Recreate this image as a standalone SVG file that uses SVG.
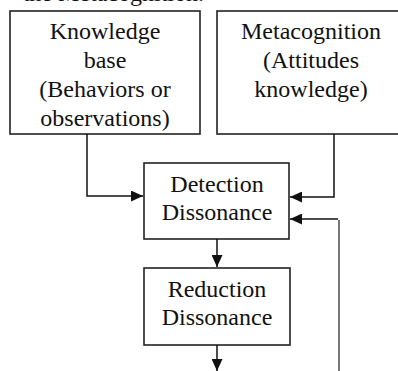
<svg xmlns="http://www.w3.org/2000/svg" width="398" height="371" viewBox="0 0 398 371">
  <defs>
    <style>
      .box { fill: #fff; stroke: #222; stroke-width: 1.6; }
      .wire { fill: none; stroke: #111; stroke-width: 1.5; }
      .wire-gray { fill: none; stroke: #777; stroke-width: 2; }
    </style>
    <marker id="head" viewBox="0 0 12 12" refX="12" refY="6" markerWidth="12" markerHeight="11" markerUnits="userSpaceOnUse" orient="auto" preserveAspectRatio="none">
      <path d="M0,0 L12,6 L0,12 z" fill="#111"/>
    </marker>
  </defs>
  <rect width="398" height="371" fill="#fff"/>

  <g font-family="Liberation Serif" font-size="24" fill="#111" text-anchor="middle">
    <!-- caption line above the chart, cut by the top edge -->
    <text x="204" y="1" text-anchor="end">the Metacognition.</text>

    <g id="knowledge-base">
      <rect class="box" x="10" y="11" width="190" height="123"/>
      <text x="105" y="39">Knowledge</text>
      <text x="105" y="68">base</text>
      <text x="105" y="97">(Behaviors or</text>
      <text x="105" y="126">observations)</text>
    </g>

    <g id="metacognition">
      <rect class="box" x="217" y="11" width="200" height="123"/>
      <text x="311" y="39">Metacognition</text>
      <text x="311" y="68">(Attitudes</text>
      <text x="311" y="97">knowledge)</text>
    </g>

    <g id="detection">
      <rect class="box" x="144" y="163" width="145" height="76"/>
      <text x="217" y="192">Detection</text>
      <text x="217" y="220">Dissonance</text>
    </g>

    <g id="reduction">
      <rect class="box" x="144" y="268" width="146" height="77"/>
      <text x="217" y="297">Reduction</text>
      <text x="217" y="325">Dissonance</text>
    </g>
  </g>

  <g id="connectors">
    <path class="wire" d="M87,134 V196 H143" marker-end="url(#head)"/>
    <path class="wire" d="M334,134 V197 H290" marker-end="url(#head)"/>
    <path class="wire-gray" d="M339,371 V220"/>
    <path class="wire" d="M338,219 H290" marker-end="url(#head)"/>
    <path class="wire" d="M217,239 V267" marker-end="url(#head)"/>
    <path class="wire" d="M217,345 V371" marker-end="url(#head)"/>
  </g>
</svg>
